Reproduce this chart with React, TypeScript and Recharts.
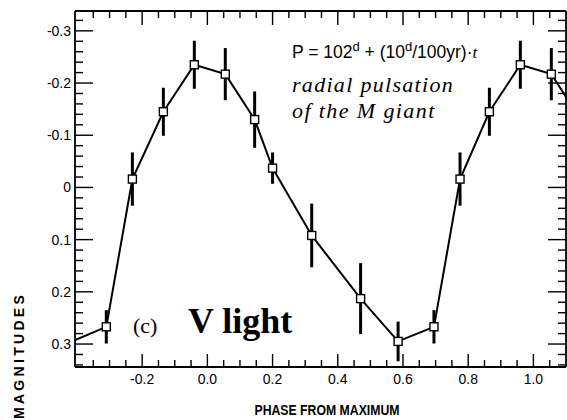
import { LineChart, Line, XAxis, YAxis, ErrorBar, Customized } from "recharts";

// Light curve: phase from maximum, V magnitude and error (cycle repeated past both ends)
const phases = [-0.415, -0.31, -0.23, -0.135, -0.04, 0.055, 0.145, 0.2, 0.32, 0.47, 0.585, 0.695, 0.775, 0.865, 0.96, 1.055, 1.145];
const magnitudes = [0.295, 0.267, -0.016, -0.145, -0.235, -0.217, -0.13, -0.037, 0.092, 0.213, 0.295, 0.267, -0.016, -0.145, -0.235, -0.217, -0.13];
const errors = [0.038, 0.032, 0.051, 0.046, 0.046, 0.05, 0.054, 0.03, 0.061, 0.068, 0.038, 0.032, 0.051, 0.046, 0.046, 0.05, 0.054];

const xMajor = [-0.2, 0, 0.2, 0.4, 0.6, 0.8, 1.0];
const xLabels = ["-0.2", "0.0", "0.2", "0.4", "0.6", "0.8", "1.0"];
const yMajor = [-0.3, -0.2, -0.1, 0, 0.1, 0.2, 0.3];
const yLabels = ["-0.3", "-0.2", "-0.1", "0", "0.1", "0.2", "0.3"];

const X_DOMAIN: [number, number] = [-0.406, 1.1];
const Y_DOMAIN: [number, number] = [-0.338, 0.344];

// minor ticks every 0.05 in phase, 0.02 in magnitude
const steps = (from: number, to: number, step: number) => {
  const out: number[] = [];
  for (let v = from; v <= to + 1e-9; v += step) out.push(Math.round(v * 1000) / 1000);
  return out;
};
const xTicks = steps(-0.35, 1.05, 0.05);
const yTicks = steps(-0.32, 0.34, 0.02);

const data = phases.map((phase, i) => ({ phase, mag: magnitudes[i], err: errors[i] }));

const WIDTH = 567;
const HEIGHT = 420;
const MARGIN = { top: 10, right: 0, bottom: 52, left: 74 };
const AXIS = 1; // axes are 1px thick boxes so they still render

const SANS = "'Liberation Sans', Arial, sans-serif";
const SERIF = "'Liberation Serif', 'Times New Roman', serif";

const majorIndex = (list: number[], v: number) => list.findIndex((m) => Math.abs(m - v) < 1e-6);

const BottomTick = ({ x, y, payload }: any) => {
  const i = majorIndex(xMajor, payload.value);
  return (
    <g>
      <line x1={x} x2={x} y1={y} y2={y - (i >= 0 ? 13 : 7)} stroke="#000" strokeWidth={1.4} />
      {i >= 0 && (
        <text x={x} y={y + 17} textAnchor="middle" fontFamily={SANS} fontSize={14} fill="#000">
          {xLabels[i]}
        </text>
      )}
    </g>
  );
};

const TopTick = ({ x, y, payload }: any) => {
  const i = majorIndex(xMajor, payload.value);
  return <line x1={x} x2={x} y1={y} y2={y + (i >= 0 ? 14 : 7)} stroke="#000" strokeWidth={1.4} />;
};

const LeftTick = ({ x, y, payload }: any) => {
  const i = majorIndex(yMajor, payload.value);
  return (
    <g>
      <line x1={x} x2={x + (i >= 0 ? 18 : 8)} y1={y} y2={y} stroke="#000" strokeWidth={1.4} />
      {i >= 0 && (
        <text x={x - 4} y={y} textAnchor="end" dominantBaseline="central" fontFamily={SANS} fontSize={14} fill="#000">
          {yLabels[i]}
        </text>
      )}
    </g>
  );
};

const RightTick = ({ x, y, payload }: any) => {
  const i = majorIndex(yMajor, payload.value);
  return <line x1={x} x2={x - (i >= 0 ? 18 : 8)} y1={y} y2={y} stroke="#000" strokeWidth={1.4} />;
};

const SquareDot = (props: any) => {
  const { cx, cy, index, payload } = props;
  const outside = payload && (payload.phase < X_DOMAIN[0] || payload.phase > X_DOMAIN[1]);
  if (cx == null || cy == null || outside) return <g key={index} />;
  return <rect key={index} x={cx - 4} y={cy - 4} width={8} height={8} fill="#fff" stroke="#000" strokeWidth={1.4} />;
};

// plot frame used to cut the repeated cycle off at both ends
const plotLeft = MARGIN.left + AXIS;
const plotTop = MARGIN.top + AXIS;
const plotWidth = WIDTH - MARGIN.left - MARGIN.right - 2 * AXIS;
const plotHeight = HEIGHT - MARGIN.top - MARGIN.bottom - 2 * AXIS;

const Annotations = () => (
  <g>
    <defs>
      <clipPath id="plot-frame" clipPathUnits="userSpaceOnUse">
        <rect x={plotLeft} y={plotTop} width={plotWidth} height={plotHeight} />
      </clipPath>
    </defs>
    <style>{`
      [class*="recharts-line"], [class*="recharts-errorBar"], [class*="recharts-curve"] {
        clip-path: url(#plot-frame);
      }
    `}</style>
    <text x={292} y={58} fontFamily={SANS} fontSize={17.5} fill="#000">
      P = 102
      <tspan dy={-7} fontSize={13}>d</tspan>
      <tspan dy={7}> + (10</tspan>
      <tspan dy={-7} fontSize={13}>d</tspan>
      <tspan dy={7}>/100yr)·</tspan>
      <tspan fontFamily={SERIF} fontStyle="italic">t</tspan>
    </text>
    <text x={292} y={92} fontFamily={SERIF} fontStyle="italic" fontSize={22} letterSpacing={1.3} fill="#000">
      radial pulsation
    </text>
    <text x={292} y={118} fontFamily={SERIF} fontStyle="italic" fontSize={22} letterSpacing={1.4} fill="#000">
      of the M giant
    </text>
    <text x={133} y={333} fontFamily={SERIF} fontSize={22} fill="#000">(c)</text>
    <text x={188} y={333} fontFamily={SERIF} fontWeight="bold" fontSize={36} fill="#000">V  light</text>
    <text x={327} y={415} textAnchor="middle" fontFamily={SANS} fontWeight="bold" fontSize={14} textLength={145} lengthAdjust="spacingAndGlyphs" fill="#000">
      PHASE FROM MAXIMUM
    </text>
    <text
      x={19}
      y={419}
      transform="rotate(-90, 19, 419)"
      textAnchor="start"
      dominantBaseline="central"
      fontFamily={SANS}
      fontWeight="bold"
      fontSize={14}
      letterSpacing={3.3}
      fill="#000"
    >
      MAGNITUDES
    </text>
  </g>
);

export default function App() {
  const frame = { stroke: "#000", strokeWidth: 1.8 };
  return (
    <div style={{ position: "absolute", left: 0, top: 0, width: WIDTH, height: HEIGHT, background: "#fff" }}>
      <LineChart width={WIDTH} height={HEIGHT} data={data} margin={MARGIN}>
        <XAxis
          xAxisId="b"
          dataKey="phase"
          type="number"
          domain={X_DOMAIN}
          allowDataOverflow
          ticks={xTicks}
          interval={0}
          height={AXIS}
          tickSize={0}
          tickMargin={0}
          tickLine={false}
          axisLine={frame}
          tick={<BottomTick />}
        />
        <XAxis
          xAxisId="t"
          orientation="top"
          dataKey="phase"
          type="number"
          domain={X_DOMAIN}
          allowDataOverflow
          ticks={xTicks}
          interval={0}
          height={AXIS}
          tickSize={0}
          tickMargin={0}
          tickLine={false}
          axisLine={frame}
          tick={<TopTick />}
        />
        <YAxis
          yAxisId="l"
          type="number"
          domain={Y_DOMAIN}
          reversed
          allowDataOverflow
          ticks={yTicks}
          interval={0}
          width={AXIS}
          tickSize={0}
          tickMargin={0}
          tickLine={false}
          axisLine={frame}
          tick={<LeftTick />}
        />
        <YAxis
          yAxisId="r"
          orientation="right"
          type="number"
          domain={Y_DOMAIN}
          reversed
          allowDataOverflow
          ticks={yTicks}
          interval={0}
          width={AXIS}
          tickSize={0}
          tickMargin={0}
          tickLine={false}
          axisLine={frame}
          tick={<RightTick />}
        />
        <Line
          xAxisId="t"
          yAxisId="r"
          dataKey="mag"
          stroke="none"
          dot={false}
          activeDot={false}
          isAnimationActive={false}
        />
        <Line
          className="light-curve"
          xAxisId="b"
          yAxisId="l"
          type="linear"
          dataKey="mag"
          stroke="#000"
          strokeWidth={2}
          dot={<SquareDot />}
          activeDot={false}
          isAnimationActive={false}
        >
          <ErrorBar dataKey="err" direction="y" width={0} stroke="#000" strokeWidth={3} isAnimationActive={false} />
        </Line>
        <Customized component={<Annotations />} />
      </LineChart>
    </div>
  );
}
